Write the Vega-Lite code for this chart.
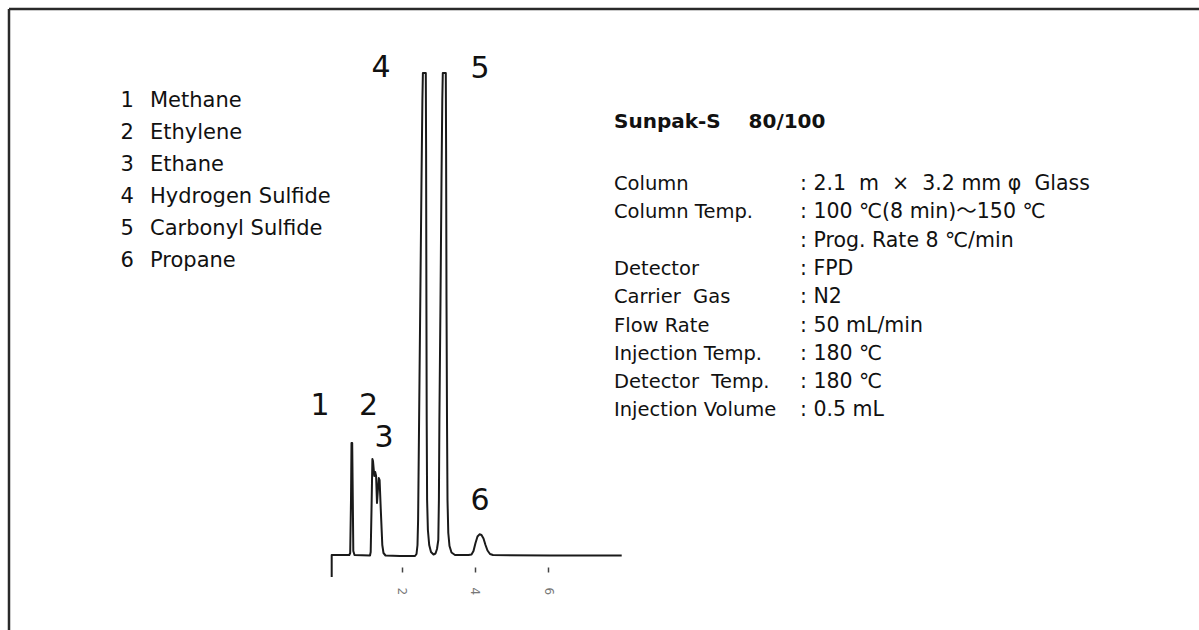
{
  "$schema": "https://vega.github.io/schema/vega-lite/v6.json",
  "width": 1199,
  "height": 630,
  "autosize": "none",
  "padding": 0,
  "background": "white",
  "config": {"view": {"stroke": null}, "text": {"font": "DejaVu Sans, Noto Sans CJK JP", "color": "#111"}},
  "datasets": {
    "trace": [
      {"i": 1, "t": 0.0874, "s": -22}, {"i": 2, "t": 0.0874, "s": 0}, {"i": 3, "t": 0.5683, "s": 0},
      {"i": 4, "t": 0.5929, "s": 2}, {"i": 5, "t": 0.6148, "s": 55}, {"i": 6, "t": 0.6284, "s": 112},
      {"i": 7, "t": 0.6475, "s": 112}, {"i": 8, "t": 0.6639, "s": 55}, {"i": 9, "t": 0.6776, "s": 4},
      {"i": 10, "t": 0.7104, "s": 0}, {"i": 11, "t": 1.1339, "s": -0.5}, {"i": 12, "t": 1.153, "s": 3},
      {"i": 13, "t": 1.1749, "s": 45}, {"i": 14, "t": 1.1995, "s": 96}, {"i": 15, "t": 1.2158, "s": 94},
      {"i": 16, "t": 1.2514, "s": 79}, {"i": 17, "t": 1.276, "s": 83}, {"i": 18, "t": 1.3005, "s": 79},
      {"i": 19, "t": 1.3251, "s": 52}, {"i": 20, "t": 1.3497, "s": 65}, {"i": 21, "t": 1.3743, "s": 77},
      {"i": 22, "t": 1.3962, "s": 75}, {"i": 23, "t": 1.429, "s": 45}, {"i": 24, "t": 1.4699, "s": 10},
      {"i": 25, "t": 1.5027, "s": 2}, {"i": 26, "t": 1.5574, "s": -0.5}, {"i": 27, "t": 1.9536, "s": -1},
      {"i": 28, "t": 2.3634, "s": -1}, {"i": 29, "t": 2.4044, "s": 1}, {"i": 30, "t": 2.4317, "s": 10},
      {"i": 31, "t": 2.4481, "s": 35}, {"i": 32, "t": 2.459, "s": 75}, {"i": 33, "t": 2.4863, "s": 175},
      {"i": 34, "t": 2.5137, "s": 275}, {"i": 35, "t": 2.541, "s": 375}, {"i": 36, "t": 2.5656, "s": 455},
      {"i": 37, "t": 2.5792, "s": 482}, {"i": 38, "t": 2.6585, "s": 482}, {"i": 39, "t": 2.6667, "s": 405},
      {"i": 40, "t": 2.6749, "s": 255}, {"i": 41, "t": 2.6831, "s": 135}, {"i": 42, "t": 2.694, "s": 55},
      {"i": 43, "t": 2.7158, "s": 25}, {"i": 44, "t": 2.7514, "s": 10}, {"i": 45, "t": 2.8005, "s": 3},
      {"i": 46, "t": 2.8689, "s": 0.5}, {"i": 47, "t": 2.9235, "s": 1.5}, {"i": 48, "t": 2.9645, "s": 6},
      {"i": 49, "t": 3.0, "s": 15}, {"i": 50, "t": 3.0164, "s": 55}, {"i": 51, "t": 3.0301, "s": 135},
      {"i": 52, "t": 3.0601, "s": 255}, {"i": 53, "t": 3.0874, "s": 375}, {"i": 54, "t": 3.1093, "s": 455},
      {"i": 55, "t": 3.123, "s": 482}, {"i": 56, "t": 3.2049, "s": 482}, {"i": 57, "t": 3.2131, "s": 405},
      {"i": 58, "t": 3.224, "s": 255}, {"i": 59, "t": 3.2377, "s": 135}, {"i": 60, "t": 3.2514, "s": 55},
      {"i": 61, "t": 3.2732, "s": 22}, {"i": 62, "t": 3.306, "s": 9}, {"i": 63, "t": 3.3607, "s": 2.5},
      {"i": 64, "t": 3.4563, "s": 0}, {"i": 65, "t": 3.8251, "s": 0}, {"i": 66, "t": 3.9071, "s": 0.5},
      {"i": 67, "t": 3.9617, "s": 4}, {"i": 68, "t": 4.0164, "s": 12}, {"i": 69, "t": 4.071, "s": 18.5},
      {"i": 70, "t": 4.1257, "s": 20.7}, {"i": 71, "t": 4.1803, "s": 20}, {"i": 72, "t": 4.235, "s": 16.5},
      {"i": 73, "t": 4.2896, "s": 10}, {"i": 74, "t": 4.3443, "s": 4.5}, {"i": 75, "t": 4.4126, "s": 1},
      {"i": 76, "t": 4.4945, "s": 0}, {"i": 77, "t": 6.0519, "s": -0.5}, {"i": 78, "t": 8.0109, "s": -0.5}
    ],
    "legend": [
      {"num": "1", "name": "Methane", "s": 448},
      {"num": "2", "name": "Ethylene", "s": 416},
      {"num": "3", "name": "Ethane", "s": 384},
      {"num": "4", "name": "Hydrogen Sulfide", "s": 352},
      {"num": "5", "name": "Carbonyl Sulfide", "s": 320},
      {"num": "6", "name": "Propane", "s": 288}
    ],
    "params": [
      {"label": "Column", "value": ": 2.1\u00a0 m\u00a0 ×\u00a0 3.2 mm φ\u00a0 Glass", "s": 365},
      {"label": "Column Temp.", "value": ": 100 ℃(8 min)～150 ℃", "s": 336.7},
      {"label": "", "value": ": Prog. Rate 8 ℃/min", "s": 308.4},
      {"label": "Detector", "value": ": FPD", "s": 280.1},
      {"label": "Carrier\u00a0 Gas", "value": ": N2", "s": 251.8},
      {"label": "Flow Rate", "value": ": 50 mL/min", "s": 223.5},
      {"label": "Injection Temp.", "value": ": 180 ℃", "s": 195.2},
      {"label": "Detector\u00a0 Temp.", "value": ": 180 ℃", "s": 166.9},
      {"label": "Injection Volume", "value": ": 0.5 mL", "s": 138.6}
    ],
    "peaks": [
      {"peak": "1", "t": -0.2322, "s": 140},
      {"peak": "2", "t": 1.0929, "s": 140},
      {"peak": "3", "t": 1.5164, "s": 108},
      {"peak": "4", "t": 1.4344, "s": 478},
      {"peak": "5", "t": 4.1393, "s": 477},
      {"peak": "6", "t": 4.1393, "s": 45}
    ]
  },
  "layer": [
    {
      "data": {"name": "trace"},
      "mark": {"type": "line", "color": "#1a1a1a", "strokeWidth": 2, "strokeJoin": "round"},
      "encoding": {
        "x": {"field": "t", "type": "quantitative", "scale": {"domain": [-8.9754, 23.7842], "nice": false, "zero": false},
              "axis": {"values": [2, 4, 6], "domain": false, "grid": false, "ticks": true, "tickSize": 5, "tickWidth": 1.5,
                       "tickColor": "#444", "labelAngle": 90, "labelFontSize": 12, "labelColor": "#777", "labelPadding": 15,
                       "labelFont": "DejaVu Sans", "offset": -63, "title": null}},
        "y": {"field": "s", "type": "quantitative", "scale": {"domain": [-75, 555], "nice": false, "zero": false}, "axis": null},
        "order": {"field": "i"}
      }
    },
    {
      "data": {"values": [{}]},
      "mark": {"type": "rule", "color": "#2a2a2a", "strokeWidth": 2.5},
      "encoding": {
        "x": {"datum": -8.7295, "type": "quantitative"},
        "y": {"datum": 546, "type": "quantitative"},
        "y2": {"datum": -75}
      }
    },
    {
      "data": {"values": [{}]},
      "mark": {"type": "rule", "color": "#2a2a2a", "strokeWidth": 2.5},
      "encoding": {
        "x": {"datum": -8.7295, "type": "quantitative"},
        "x2": {"datum": 23.7842},
        "y": {"datum": 546, "type": "quantitative"}
      }
    },
    {
      "data": {"name": "legend"},
      "mark": {"type": "text", "align": "left", "baseline": "alphabetic", "fontSize": 21},
      "encoding": {
        "x": {"datum": -5.6831, "type": "quantitative"},
        "y": {"field": "s", "type": "quantitative"},
        "text": {"field": "num"}
      }
    },
    {
      "data": {"name": "legend"},
      "mark": {"type": "text", "align": "left", "baseline": "alphabetic", "fontSize": 21},
      "encoding": {
        "x": {"datum": -4.877, "type": "quantitative"},
        "y": {"field": "s", "type": "quantitative"},
        "text": {"field": "name"}
      }
    },
    {
      "data": {"values": [{"title": "Sunpak-S\u00a0\u00a0\u00a0 80/100", "s": 427}]},
      "mark": {"type": "text", "align": "left", "baseline": "alphabetic", "fontSize": 20, "fontWeight": "bold"},
      "encoding": {
        "x": {"datum": 7.8005, "type": "quantitative"},
        "y": {"field": "s", "type": "quantitative"},
        "text": {"field": "title"}
      }
    },
    {
      "data": {"name": "params"},
      "mark": {"type": "text", "align": "left", "baseline": "alphabetic", "fontSize": 19.5},
      "encoding": {
        "x": {"datum": 7.8005, "type": "quantitative"},
        "y": {"field": "s", "type": "quantitative"},
        "text": {"field": "label"}
      }
    },
    {
      "data": {"name": "params"},
      "mark": {"type": "text", "align": "left", "baseline": "alphabetic", "fontSize": 20.5},
      "encoding": {
        "x": {"datum": 12.8825, "type": "quantitative"},
        "y": {"field": "s", "type": "quantitative"},
        "text": {"field": "value"}
      }
    },
    {
      "data": {"name": "peaks"},
      "mark": {"type": "text", "align": "center", "baseline": "alphabetic", "fontSize": 30},
      "encoding": {
        "x": {"field": "t", "type": "quantitative"},
        "y": {"field": "s", "type": "quantitative"},
        "text": {"field": "peak"}
      }
    }
  ]
}
